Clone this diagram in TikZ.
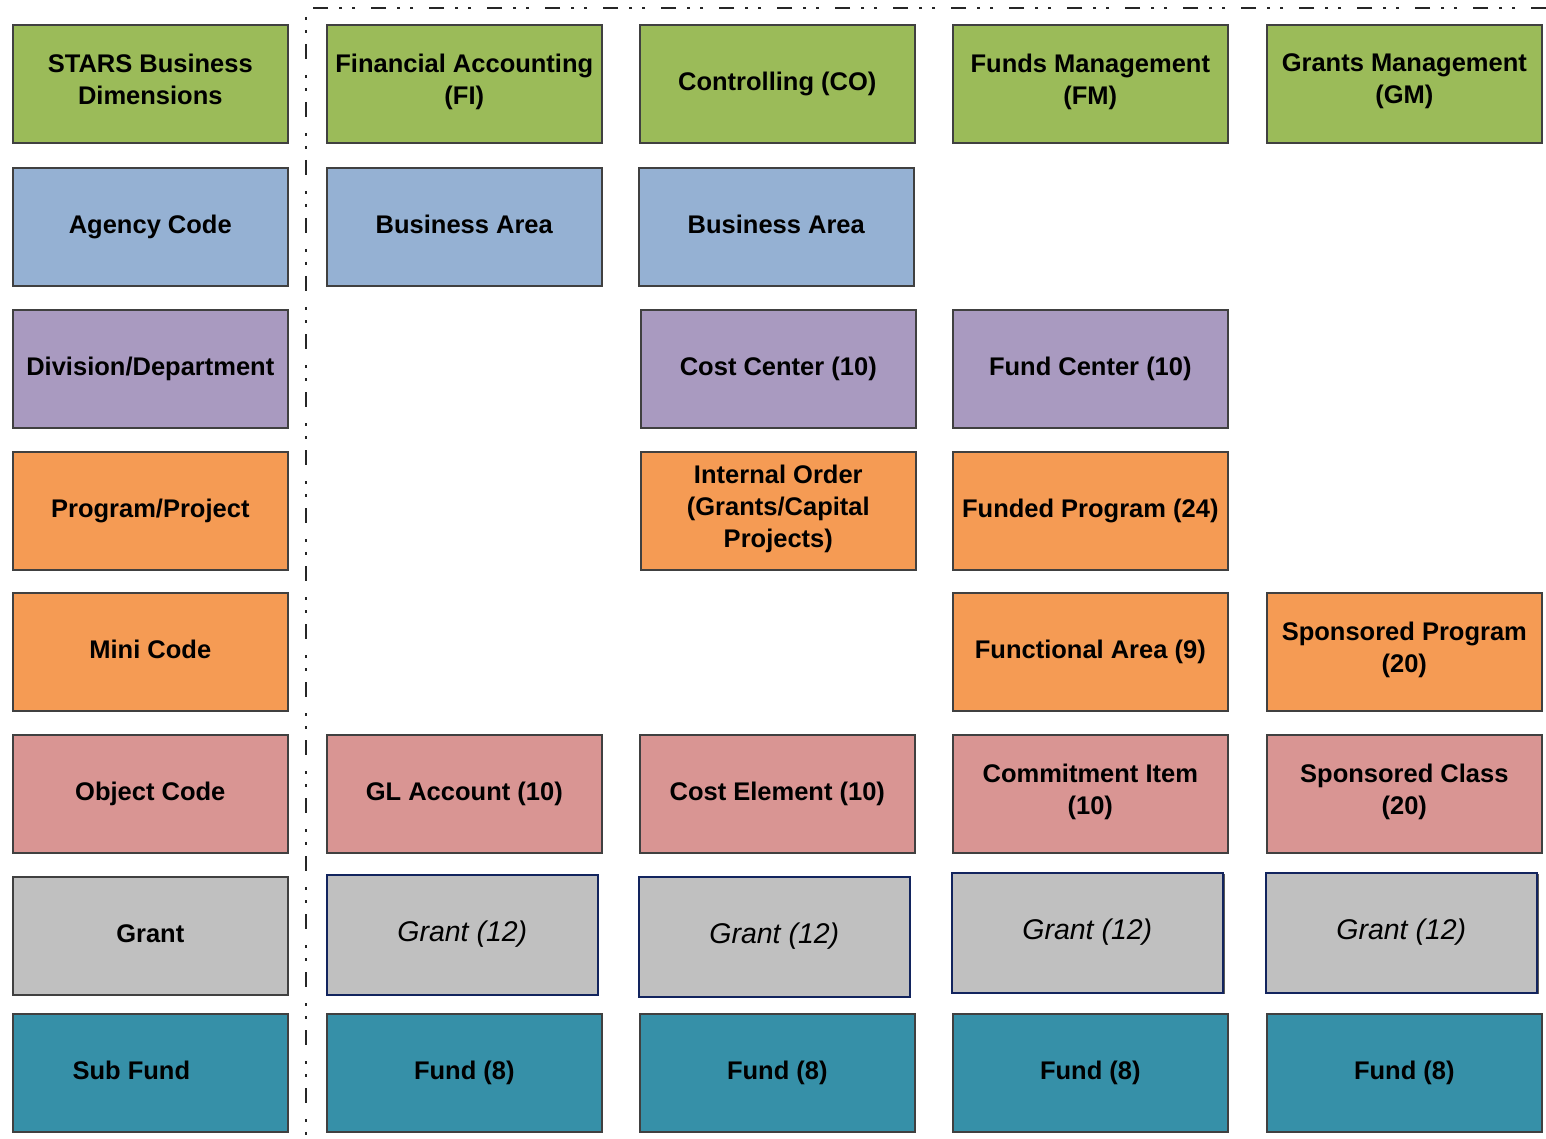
\documentclass[tikz,border=0pt]{standalone}
\usepackage{fontspec}
\setmainfont{Liberation Sans}
\definecolor{cgreen}{HTML}{9BBB59}
\definecolor{cblue}{HTML}{95B1D3}
\definecolor{cpurple}{HTML}{A99AC0}
\definecolor{corange}{HTML}{F59B54}
\definecolor{cpink}{HTML}{D99593}
\definecolor{cgray}{HTML}{C0C0C0}
\definecolor{cteal}{HTML}{3690A8}
\definecolor{cnavy}{HTML}{12245E}
\definecolor{cedge}{HTML}{404040}
\begin{document}
\begin{tikzpicture}[x=1pt,y=-1pt,
  cell/.style={rectangle,anchor=north west,minimum width=275pt,minimum height=118pt,
    draw=cedge,line width=1.6pt,align=center,inner sep=0pt,
    execute at begin node=\strut, execute at end node=\strut,
    font=\fontsize{25.5}{32}\selectfont\bfseries},
  gr/.style={cell,fill=cgreen},
  bl/.style={cell,fill=cblue},
  pu/.style={cell,fill=cpurple},
  orr/.style={cell,fill=corange},
  pk/.style={cell,fill=cpink},
  gy/.style={cell,fill=cgray},
  tl/.style={cell,fill=cteal},
  grantbox/.style={cell,fill=cgray,draw=cnavy,minimum width=271pt,minimum height=120pt,
    font=\fontsize{28.5}{32}\selectfont\itshape},
  shadowedge/.style={draw=gray!70!black,line width=2.5pt},
  border/.style={line width=2.6pt,black!85,dash pattern=on 15pt off 16pt on 3pt off 10pt on 3pt off 11pt}
]
\useasboundingbox (0,0) rectangle (1546,1139);
\coordinate (bstart) at (1546,8);
\coordinate (bcorner) at (306,8);
\coordinate (bend) at (306,1139);
\draw[border] (bstart) -- (bcorner) -- (bend);

% row 0
\node[gr] (h0) at (12,24) {STARS Business\\Dimensions};
\node[gr] (h1) at (326,24) {Financial Accounting\\(FI)};
\node[gr] (h2) at (639,24) {Controlling (CO)};
\node[gr] (h3) at (952,24) {Funds Management\\(FM)};
\node[gr] (h4) at (1266,24) {Grants Management\\(GM)};
% row 1
\node[bl] (a0) at (12,167) {Agency Code};
\node[bl] (a1) at (326,167) {Business Area};
\node[bl] (a2) at (638,167) {Business Area};
% row 2
\node[pu] (d0) at (12,309) {Division/Department};
\node[pu] (d2) at (640,309) {Cost Center (10)};
\node[pu] (d3) at (952,309) {Fund Center (10)};
% row 3
\node[orr] (p0) at (12,451) {Program/Project};
\node[orr] (p2) at (640,451) {Internal Order\\(Grants/Capital\\Projects)};
\node[orr] (p3) at (952,451) {Funded Program (24)};
% row 4
\node[orr] (m0) at (12,592) {Mini Code};
\node[orr] (m3) at (952,592) {Functional Area (9)};
\node[orr] (m4) at (1266,592) {Sponsored Program\\(20)};
% row 5
\node[pk] (o0) at (12,734) {Object Code};
\node[pk] (o1) at (326,734) {GL Account (10)};
\node[pk] (o2) at (639,734) {Cost Element (10)};
\node[pk] (o3) at (952,734) {Commitment Item\\(10)};
\node[pk] (o4) at (1266,734) {Sponsored Class\\(20)};
% row 6
\node[gy] (g0) at (12,876) {Grant};
\draw[shadowedge] (598,876) -- (598,994);
\node[grantbox] (g1) at (326,874) {Grant (12)};
\draw[shadowedge] (910,878) -- (910,996);
\node[grantbox] (g2) at (638,876) {Grant (12)};
\draw[shadowedge] (1224,874) -- (1224,994);
\node[grantbox] (g3) at (951,872) {Grant (12)};
\draw[shadowedge] (1538,874) -- (1538,994);
\node[grantbox] (g4) at (1265,872) {Grant (12)};
% row 7
\node[tl] (f0) at (12,1013) {\hspace*{-38pt}Sub Fund};
\node[tl] (f1) at (326,1013) {Fund (8)};
\node[tl] (f2) at (639,1013) {Fund (8)};
\node[tl] (f3) at (952,1013) {Fund (8)};
\node[tl] (f4) at (1266,1013) {Fund (8)};
\end{tikzpicture}
\end{document}
